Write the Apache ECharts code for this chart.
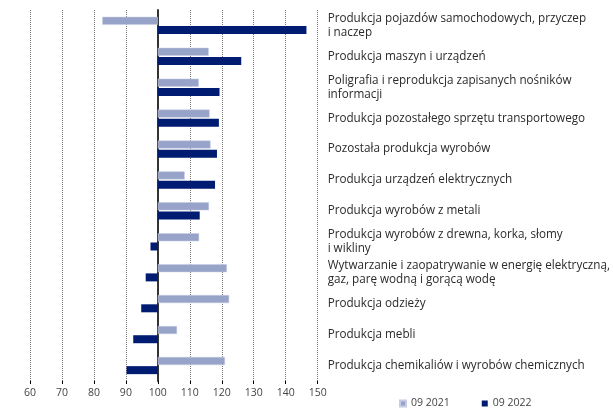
<!DOCTYPE html>
<html><head><meta charset="utf-8">
<script src="https://cdn.jsdelivr.net/npm/echarts@6/dist/echarts.min.js"></script>
<style>html,body{margin:0;padding:0;background:#fff}#c{width:613px;height:411px}</style>
</head><body><div id="c"></div>
<script>
var categories = [
  "Produkcja pojazdów samochodowych, przyczep\ni naczep",
  "Produkcja maszyn i urządzeń",
  "Poligrafia i reprodukcja zapisanych nośników\ninformacji",
  "Produkcja pozostałego sprzętu transportowego",
  "Pozostała produkcja wyrobów",
  "Produkcja urządzeń elektrycznych",
  "Produkcja wyrobów z metali",
  "Produkcja wyrobów z drewna, korka, słomy\ni wikliny",
  "Wytwarzanie i zaopatrywanie w energię elektryczną,\ngaz, parę wodną i gorącą wodę",
  "Produkcja odzieży",
  "Produkcja mebli",
  "Produkcja chemikaliów i wyrobów chemicznych"
];
var values2021 = [82.6, 115.9, 112.8, 116.2, 116.5, 108.4, 116.0, 112.9, 121.6, 122.3, 106.0, 121.0];
var values2022 = [146.5, 126.1, 119.3, 119.1, 118.5, 117.9, 113.1, 97.7, 96.2, 94.8, 92.3, 90.2];
var seriesNames = ["09 2021", "09 2022"];
var base = 100;
var axisMin = 60, axisMax = 150, axisStep = 10;

var FONT = "Open Sans";
function dev(arr){ return arr.map(function(v){ return +(v - base).toFixed(2); }); }

var chart = echarts.init(document.getElementById('c'));
chart.setOption({
  animation: false,
  textStyle: { fontFamily: FONT },
  legend: {
    top: 398, left: 399, padding: 0,
    itemWidth: 6, itemHeight: 6, itemGap: 32,
    icon: 'rect',
    textStyle: { fontFamily: FONT, fontSize: 10.5, color: '#444' },
    data: seriesNames
  },
  grid: { left: 30, right: 292, top: 10, bottom: 30, containLabel: false },
  xAxis: {
    type: 'value',
    min: axisMin - base, max: axisMax - base, interval: axisStep,
    axisLine: { onZero: false, lineStyle: { color: '#000', width: 2 } },
    axisTick: { show: true, length: 3, lineStyle: { color: '#000' } },
    axisLabel: { color: '#444', fontSize: 10.5, fontFamily: FONT, margin: 7,
      formatter: function(v){ return String(v + base); } },
    splitLine: { show: true, lineStyle: { color: '#777', type: [1, 1], width: 1 } }
  },
  yAxis: [{
    type: 'category', data: categories, inverse: true,
    axisLine: { show: true, onZero: true, lineStyle: { color: '#333', width: 2 } },
    axisTick: { show: false }, axisLabel: { show: false }
  }, {
    type: 'category', data: categories, inverse: true, position: 'right',
    axisLine: { show: false }, axisTick: { show: false },
    axisLabel: { color: '#2a2a2a', fontSize: 11.7, fontFamily: FONT, margin: 10, align: 'left', lineHeight: 14 }
  }],
  series: [{
    name: seriesNames[0], type: 'bar', data: dev(values2021),
    barWidth: 8, barGap: '15%',
    itemStyle: { color: '#97a3c9', borderColor: '#c5cce3', borderWidth: 0.5 }
  }, {
    name: seriesNames[1], type: 'bar', data: dev(values2022),
    barWidth: 8, barGap: '15%',
    itemStyle: { color: '#001b72' }
  }]
});
</script></body></html>
